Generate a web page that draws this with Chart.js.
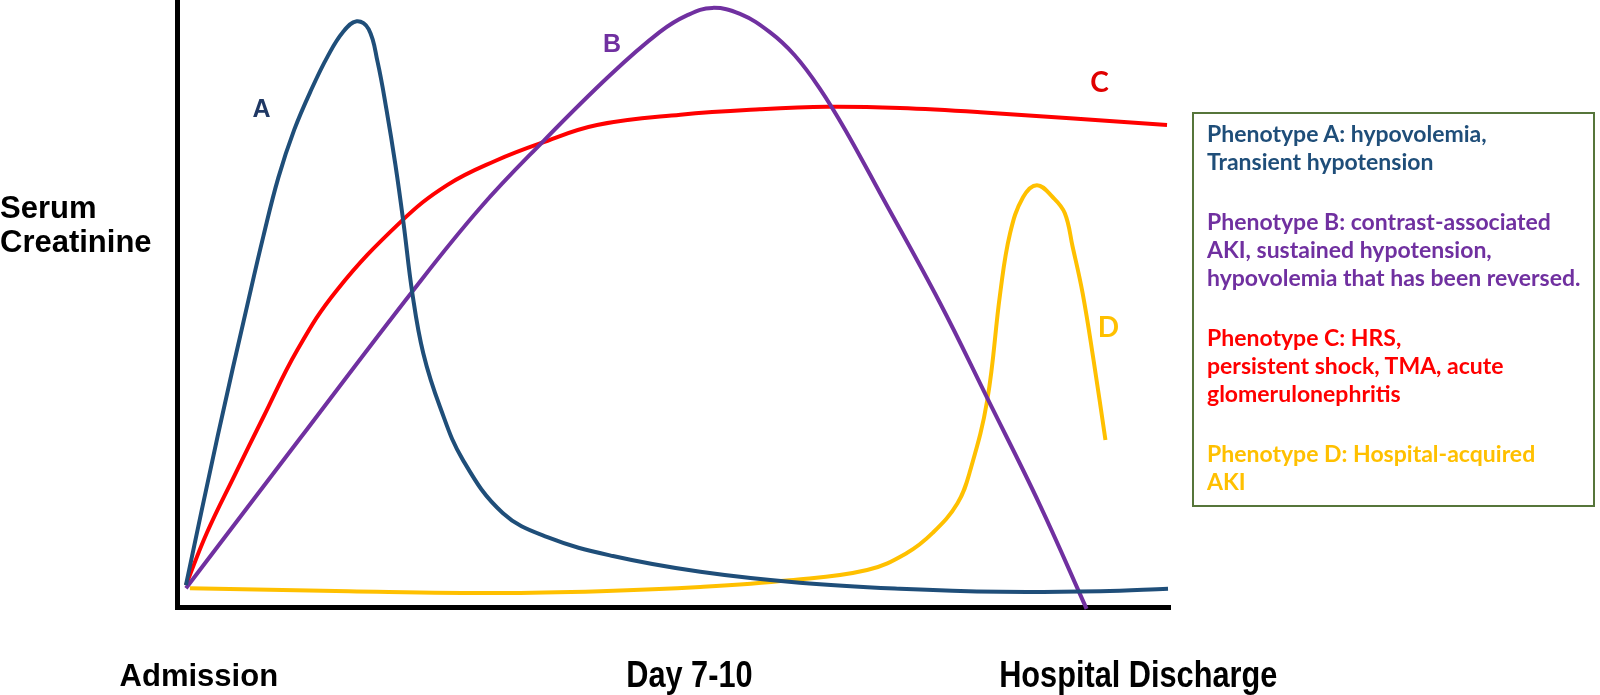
<!DOCTYPE html>
<html>
<head>
<meta charset="utf-8">
<script src="https://cdn.jsdelivr.net/npm/chart.js@4.4.0/dist/chart.umd.min.js"></script>
<style>
  html, body { margin: 0; padding: 0; background: #fff; }
  #wrap { position: relative; width: 1600px; height: 695px; }
  #yTitle { position: absolute; left: 0; top: 191px; font: bold 31px "Liberation Sans", Arial, sans-serif; line-height: 34px; color: #000; }
  #key { position: absolute; left: 1192px; top: 112px; width: 386px; height: 386px; border: 2px solid #56753a;
         padding: 5px 0 0 13px; font: bold 23px Lato, sans-serif; line-height: 28px; }
  #key p { margin: 0 0 32px 0; white-space: nowrap; }
</style>
</head>
<body>
<div id="wrap">
  <canvas id="chart" width="1600" height="695"></canvas>
  <div id="yTitle">Serum<br>Creatinine</div>
  <div id="key"></div>
</div>
<script>
// phenotype curves (x: 0 = admission axis, 100 = right end; y: 0 = baseline, 100 = top)
const aX = [0.9, 4.1, 7.2, 8.7, 10.2, 11.8, 13.6, 15.2, 16.7, 18.1, 19.3, 20.2, 21.1, 22.0, 22.8, 23.7, 24.8, 26.5, 28.8, 32.8, 37.3, 43.9, 52.7, 62.7, 72.8, 82.9, 93.0, 99.8];
const aY = [3.6, 28.2, 50.6, 61.1, 70.7, 78.6, 85.5, 90.8, 94.7, 96.5, 95.2, 89.8, 81.9, 72.8, 63.4, 51.7, 41.8, 32.9, 24.2, 15.5, 11.5, 8.4, 5.8, 4.0, 3.0, 2.5, 2.6, 3.0];

const bX = [0.9, 12.4, 23.8, 30.5, 36.8, 43.6, 48.6, 51.4, 53.9, 56.7, 59.7, 62.2, 64.7, 67.3, 70.8, 76.8, 81.6, 86.9, 91.6];
const bY = [3.1, 27.8, 52.2, 65.7, 76.6, 87.6, 94.7, 97.5, 98.7, 97.7, 94.7, 90.9, 85.5, 78.6, 68.2, 50.2, 34.4, 16.8, -0.3];

const cX = [0.9, 3.0, 5.8, 8.7, 12.1, 16.1, 22.5, 27.2, 32.2, 36.6, 42.3, 50.7, 58.7, 65.5, 72.8, 80.9, 99.7];
const cY = [3.6, 12.2, 21.7, 31.3, 42.3, 52.2, 63.4, 69.5, 73.6, 76.4, 79.4, 81.1, 82.0, 82.4, 82.2, 81.5, 79.4];

const dX = [1.3, 17.3, 32.4, 42.6, 52.7, 61.7, 69.5, 73.5, 76.1, 78.6, 79.9, 81.6, 82.9, 83.9, 85.2, 86.6, 88.2, 89.4, 90.2, 91.2, 92.3, 93.5];
const dY = [3.1, 2.6, 2.3, 2.6, 3.3, 4.4, 6.1, 8.9, 12.2, 17.1, 22.6, 34.1, 51.7, 61.6, 67.5, 69.5, 67.5, 64.9, 59.3, 51.7, 40.7, 27.5];

const xTickValues = [2.2, 51.6, 96.8];
const xTickLabels = ["Admission", "Day 7-10", "Hospital Discharge"];

const labelText = ["A", "B", "C", "D"];
const labelX = [8.5, 43.8, 92.9, 93.8];
const labelY = [81.9, 92.6, 86.3, 46.0];

const colors = ["#1F4E79", "#7030A0", "#FF0000", "#FFC000"];
const labelColors = ["#1F3864", "#7030A0", "#E00000", "#FFC000"];

const phenotypeNotes = [
  ["Phenotype A: hypovolemia,", "Transient hypotension"],
  ["Phenotype B: contrast-associated", "AKI, sustained hypotension,", "hypovolemia that has been reversed."],
  ["Phenotype C: HRS,", "persistent shock, TMA, acute", "glomerulonephritis"],
  ["Phenotype D: Hospital-acquired", "AKI"]
];
const noteColors = ["#1F4E79", "#7030A0", "#FF0000", "#FFC000"];

document.querySelector("#key").innerHTML = phenotypeNotes
  .map((lines, i) => `<p style="color:${noteColors[i]}">${lines.join("<br>")}</p>`)
  .join("");

function series(xs, ys) {
  return xs.map((x, i) => ({ x: x, y: ys[i] }));
}

function lineSet(xs, ys, color) {
  return {
    data: series(xs, ys),
    borderColor: color,
    borderWidth: 4,
    pointRadius: 0,
    fill: false,
    tension: 0.4,
    clip: false
  };
}

// curve letters and the x tick labels (narrow face emulated with a horizontal squeeze)
const textLayer = {
  id: "textLayer",
  afterDatasetsDraw(chart) {
    const { ctx, scales } = chart;
    ctx.save();
    ctx.textAlign = "center";
    ctx.textBaseline = "middle";
    labelText.forEach((t, i) => {
      ctx.font = i < 2 ? 'bold 25px "Liberation Sans", Arial, sans-serif' : "bold 28px Lato, sans-serif";
      ctx.fillStyle = labelColors[i];
      ctx.fillText(t, scales.x.getPixelForValue(labelX[i]), scales.y.getPixelForValue(labelY[i]));
    });
    ctx.fillStyle = "#000";
    const ty = scales.y.bottom + 70;
    scales.x.ticks.forEach((tick, i) => {
      const px = scales.x.getPixelForValue(tick.value);
      const squeeze = i === 0 ? 1 : 0.83;
      ctx.font = i === 0 ? 'bold 31px "Liberation Sans", Arial, sans-serif' : 'bold 37px "Liberation Sans", Arial, sans-serif';
      ctx.save();
      ctx.translate(px, ty);
      ctx.scale(squeeze, 1);
      ctx.fillText(xTickLabels[i], 0, 0);
      ctx.restore();
    });
    ctx.restore();
  }
};

let ctx = document.querySelector("#chart").getContext("2d");
new Chart(ctx, {
  type: "line",
  data: {
    datasets: [
      lineSet(aX, aY, colors[0]),
      lineSet(bX, bY, colors[1]),
      lineSet(cX, cY, colors[2]),
      lineSet(dX, dY, colors[3])
    ]
  },
  options: {
    responsive: false,
    animation: false,
    layout: { padding: { left: 0, right: 430, top: 0, bottom: 0 } },
    plugins: { legend: { display: false }, tooltip: { enabled: false } },
    scales: {
      x: {
        type: "linear",
        min: 0,
        max: 100,
        afterFit(scale) { scale.height = 88; },
        afterBuildTicks(scale) { scale.ticks = xTickValues.map(v => ({ value: v })); },
        grid: { display: false, drawTicks: false },
        border: { display: true, color: "#000", width: 5 },
        ticks: { display: false }
      },
      y: {
        min: 0,
        max: 100,
        afterFit(scale) { scale.width = 177; },
        grid: { display: false, drawTicks: false },
        border: { display: true, color: "#000", width: 5 },
        ticks: { display: false }
      }
    }
  },
  plugins: [textLayer]
});
</script>
</body>
</html>
